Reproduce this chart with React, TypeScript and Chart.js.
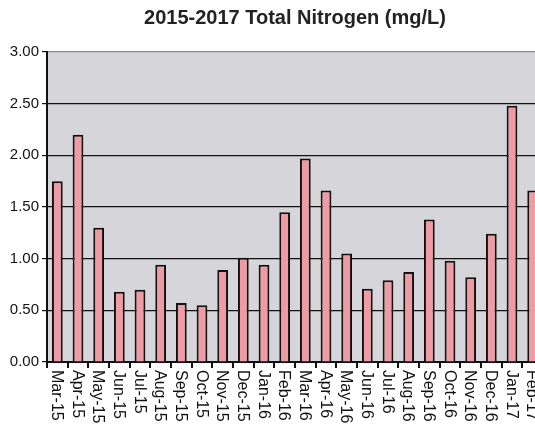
import React, { useEffect, useRef } from "react";
import { Chart, registerables } from "chart.js";

Chart.register(...registerables);

const categories = [
  "Mar-15", "Apr-15", "May-15", "Jun-15", "Jul-15", "Aug-15", "Sep-15", "Oct-15",
  "Nov-15", "Dec-15", "Jan-16", "Feb-16", "Mar-16", "Apr-16", "May-16", "Jun-16",
  "Jul-16", "Aug-16", "Sep-16", "Oct-16", "Nov-16", "Dec-16", "Jan-17", "Feb-17",
];

const nitrogen = [
  1.75, 2.2, 1.3, 0.68, 0.7, 0.94, 0.57, 0.55,
  0.89, 1.01, 0.94, 1.45, 1.97, 1.66, 1.05, 0.71,
  0.79, 0.87, 1.38, 0.98, 0.82, 1.24, 2.48, 1.66,
];

const titleText = "2015-2017 Total Nitrogen (mg/L)";

const plotBg = {
  id: "plotBg",
  beforeDraw(chart: any) {
    const { ctx, chartArea } = chart;
    ctx.save();
    ctx.fillStyle = "#d6d6da";
    ctx.fillRect(chartArea.left, chartArea.top, chartArea.right - chartArea.left, chartArea.bottom - chartArea.top);
    ctx.restore();
  },
};

const xLabels = {
  id: "xLabels",
  afterDraw(chart: any) {
    const { ctx } = chart;
    const xs = chart.scales.x;
    ctx.save();
    ctx.fillStyle = "#111";
    ctx.font = "16px 'Liberation Sans', Arial, sans-serif";
    ctx.textAlign = "left";
    ctx.textBaseline = "middle";
    categories.forEach((lab, i) => {
      const px = xs.getPixelForTick(i);
      ctx.save();
      ctx.translate(px - 1, xs.top + 8);
      ctx.rotate(Math.PI / 2);
      ctx.fillText(lab, 0, 0);
      ctx.restore();
    });
    ctx.restore();
  },
};

export default function App() {
  const ref = useRef<HTMLCanvasElement | null>(null);
  useEffect(() => {
    if (!ref.current) return;
    const chart = new Chart(ref.current, {
      type: "bar",
      data: {
        labels: categories,
        datasets: [
          {
            data: nitrogen,
            backgroundColor: "#ef9ba4",
            borderColor: "#111",
            borderWidth: 2,
            borderSkipped: "bottom",
            barPercentage: 0.52,
            categoryPercentage: 1,
          },
        ],
      },
      options: {
        responsive: false,
        animation: false,
        layout: { padding: { left: 0, right: 17, top: 0, bottom: 0 } },
        plugins: {
          legend: { display: false },
          tooltip: { enabled: false },
          title: {
            display: true,
            text: titleText,
            fullSize: false,
            color: "#222",
            font: { family: "'Liberation Sans', Arial, sans-serif", size: 20, weight: "bold", lineHeight: 1.2 },
            padding: { top: 6, bottom: 22 },
          },
        },
        scales: {
          x: {
            offset: true,
            grid: {
              offset: true,
              drawOnChartArea: false,
              drawTicks: true,
              tickLength: 6,
              color: "#111",
              lineWidth: 2,
            },
            border: { color: "#111", width: 2 },
            ticks: { display: false },
            afterFit(scale: any) {
              scale.height = 65;
            },
          },
          y: {
            min: 0,
            max: 3,
            ticks: {
              stepSize: 0.5,
              color: "#111",
              padding: 3,
              font: { family: "'Liberation Sans', Arial, sans-serif", size: 15 },
              callback: (v: any) => Number(v).toFixed(2),
            },
            grid: {
              color: (c: any) => (c.tick && c.tick.value === 3 ? "#8a8a8a" : "#111"),
              lineWidth: 1.2,
              tickLength: 5,
              tickColor: "#111",
            },
            border: { color: "#111", width: 2 },
            afterFit(scale: any) {
              scale.width = 47;
            },
          },
        },
      },
      plugins: [plotBg, xLabels],
    });
    return () => chart.destroy();
  }, []);
  return (
    <div style={{ position: "absolute", left: 0, top: 0, width: 535, height: 427, overflow: "hidden", background: "#fff" }}>
      <canvas ref={ref} width={560} height={427} style={{ display: "block" }} />
    </div>
  );
}
